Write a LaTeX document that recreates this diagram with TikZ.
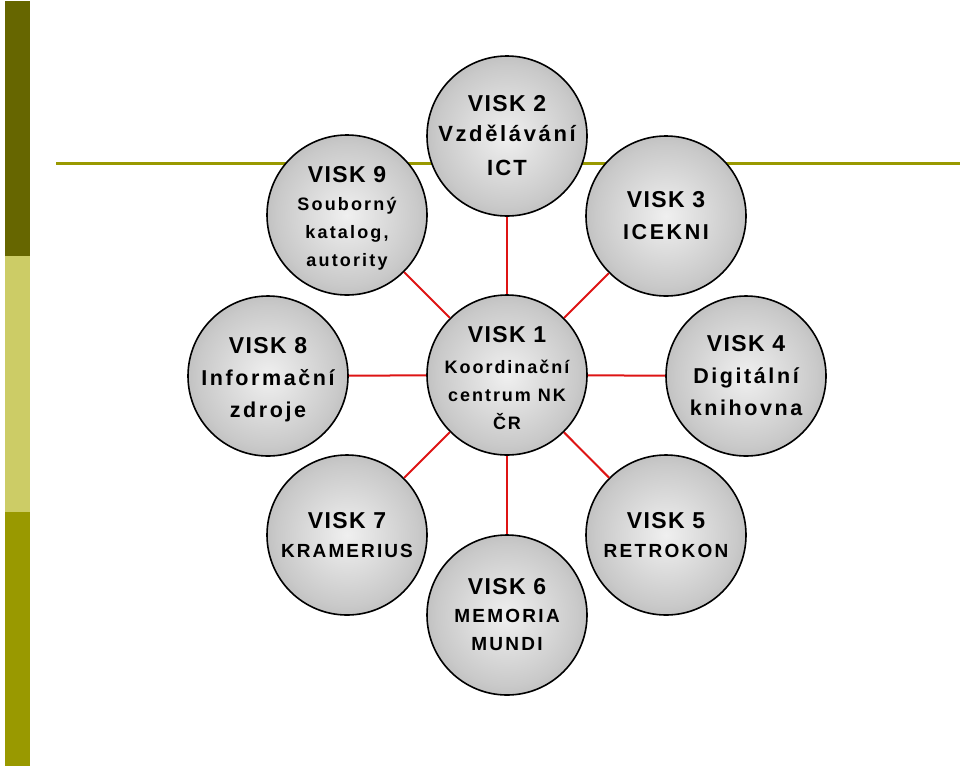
\documentclass[tikz,border=0pt]{standalone}
\usepackage{fontspec}
\setmainfont{Liberation Sans}
\definecolor{oliveDark}{RGB}{102,102,0}
\definecolor{oliveLight}{RGB}{204,204,102}
\definecolor{oliveMid}{RGB}{153,153,0}
\definecolor{linkred}{RGB}{222,20,20}
\pgfdeclareradialshading{sphereshade}{\pgfpoint{0bp}{0bp}}{color(0bp)=(black!6); color(22bp)=(black!21); color(50bp)=(black!48)}
\newcommand\vtitle[1]{{\fontsize{23}{27}\selectfont\addfontfeatures{LetterSpace=6}#1}}
\newcommand\vsub[3]{{\fontsize{#1}{27}\selectfont\addfontfeatures{LetterSpace=#2}#3}}
\newcommand\lowerby{\rule{0pt}{22.5pt}}
\begin{document}
\begin{tikzpicture}[x=1pt,y=-1pt,
  ball/.style={circle, minimum size=160pt, inner sep=-30pt, draw=black, line width=1.6pt,
    shading=sphereshade, align=center, font=\bfseries\fontsize{18}{#1}\selectfont},
  ball/.default=28,
  link/.style={draw=linkred, line width=2pt}]
\useasboundingbox[fill=white] (0,0) rectangle (960,769);
% left bar
\fill[oliveDark] (5,1) rectangle (30,256);
\fill[oliveLight] (5,256) rectangle (30,512);
\fill[oliveMid] (5,512) rectangle (30,766);
% horizontal rule
\draw[oliveMid, line width=3pt] (56,163) -- (960,163);
% nodes
\node[ball=28] (v1) at (507,375) {\lowerby\vtitle{VISK 1}\\[3pt]\vsub{18}{11}{Koordinační}\\\vsub{18}{11}{centrum NK}\\\vsub{18}{11}{ČR}};
\node[ball=30] (v2) at (507,136) {\vtitle{VISK 2}\\\vsub{22}{12}{Vzdělávání}\\[4pt]\vsub{22}{10}{ICT}};
\node[ball=32] (v3) at (666,216) {\vtitle{VISK 3}\\\vsub{21.5}{12}{ICEKNI}};
\node[ball=32] (v4) at (746,376) {\vtitle{VISK 4}\\\vsub{21.5}{12}{Digitální}\\\vsub{21.5}{12}{knihovna}};
\node[ball=29] (v5) at (666,535) {\vtitle{VISK 5}\\\vsub{19}{12}{RETROKON}};
\node[ball=28] (v6) at (507,615) {\vtitle{VISK 6}\\\vsub{19}{12}{MEMORIA}\\\vsub{19}{12}{MUNDI}};
\node[ball=29] (v7) at (347,535) {\vtitle{VISK 7}\\\vsub{19}{11}{KRAMERIUS}};
\node[ball=32] (v8) at (268,376) {\lowerby\vtitle{VISK 8}\\\vsub{21.5}{12}{Informační}\\\vsub{21.5}{12}{zdroje}};
\node[ball=28] (v9) at (347,215) {\lowerby\vtitle{VISK 9}\\\vsub{18}{12}{Souborný}\\\vsub{18}{12}{katalog,}\\\vsub{18}{12}{autority}};
% connectors
\foreach \n in {v2,v3,v4,v5,v6,v7,v8,v9}
  \draw[link] (v1) -- (\n);
\end{tikzpicture}
\end{document}
